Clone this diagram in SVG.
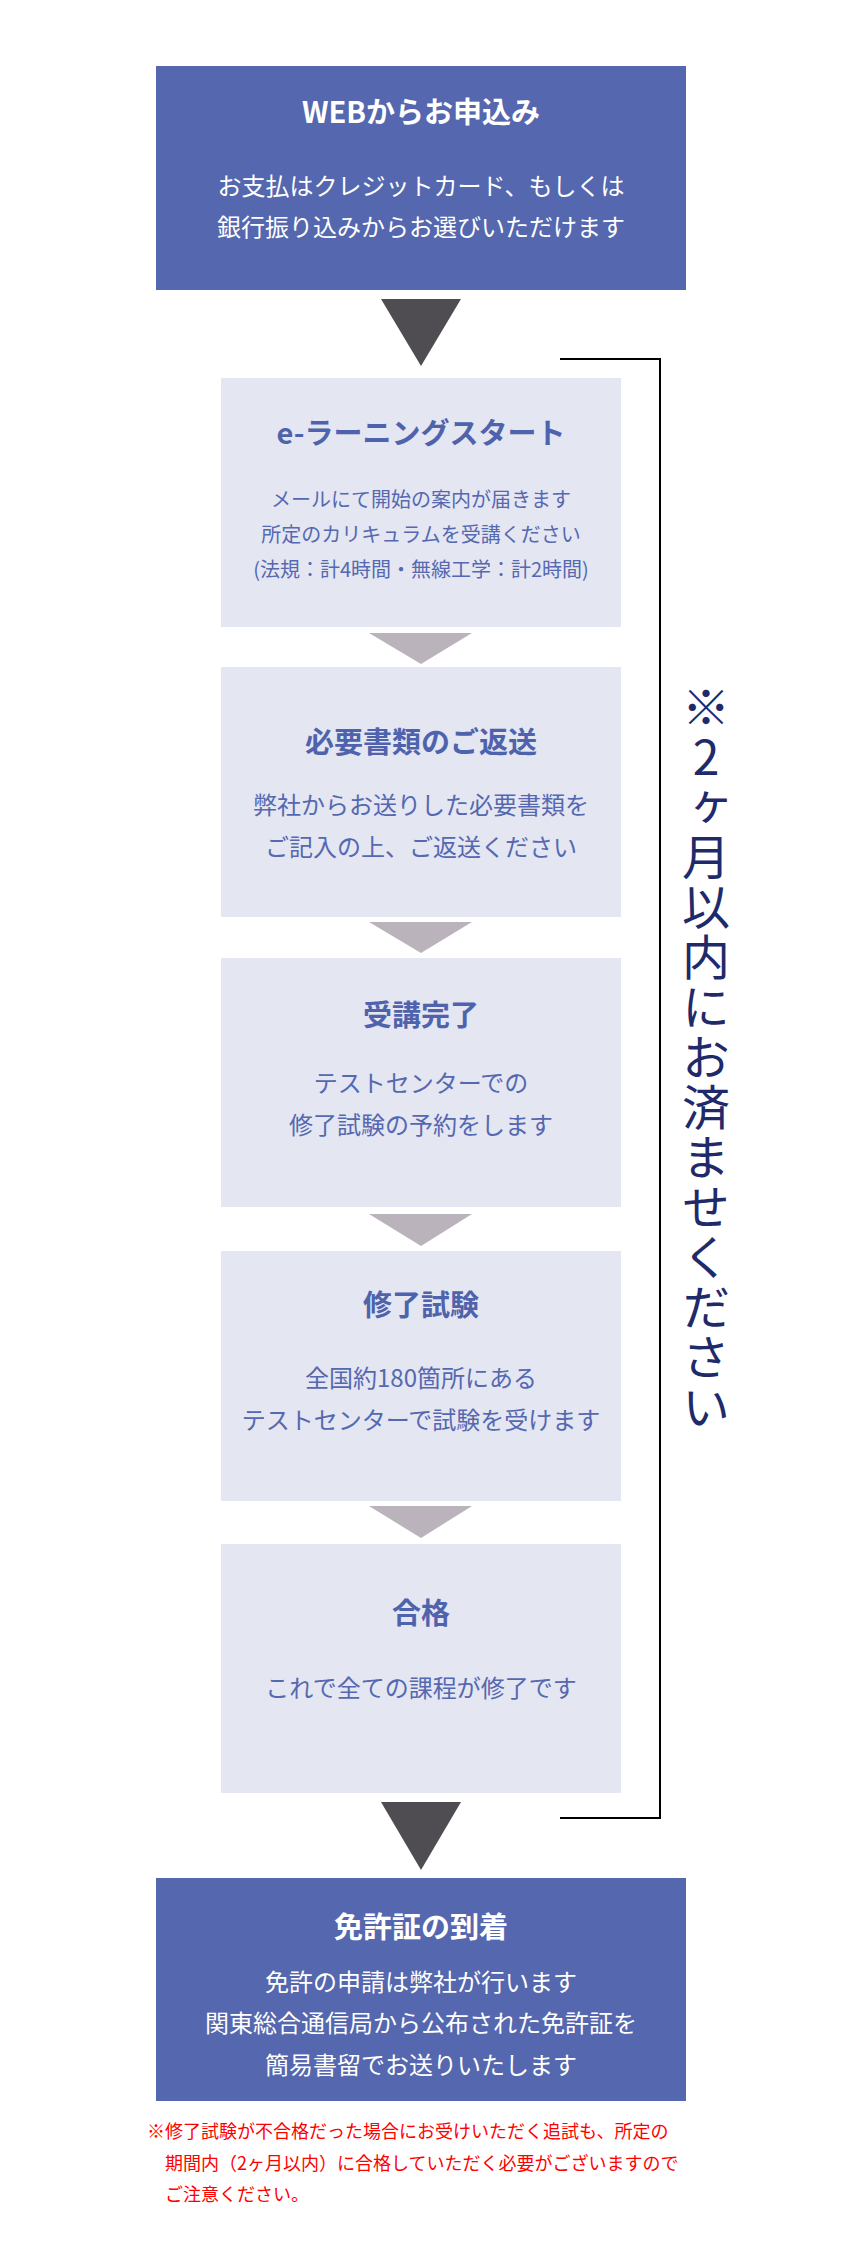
<svg xmlns="http://www.w3.org/2000/svg" width="842" height="2243" viewBox="0 0 842 2243">
<style>
  text { font-family: "Noto Sans CJK JP", "Noto Sans", sans-serif; text-anchor: middle; }
  .blue { fill: #5567ae; }
  .light { fill: #e4e6f2; }
  .wt { fill: #ffffff; font-size: 29px; font-weight: 700; }
  .wb { fill: #ffffff; font-size: 24px; }
  .lt { fill: #4f63ad; font-size: 29px; font-weight: 700; }
  .lb { fill: #5568b0; font-size: 24px; }
  .lbs { fill: #5568b0; font-size: 20px; }
  .dark { fill: #4f4d52; }
  .pale { fill: #bab3bc; }
  .note { fill: #ff0000; font-size: 18px; text-anchor: start; }
  .vert { fill: #1f2a6b; font-size: 48px; writing-mode: vertical-rl; text-orientation: upright; text-anchor: start; letter-spacing: 2px; }
</style>
<rect width="842" height="2243" fill="#ffffff"/>

<g id="node-web">
  <rect class="blue" x="156" y="66" width="530" height="224"/>
  <text class="wt" x="421" y="123">WEBからお申込み</text>
  <text class="wb" x="421" y="195">お支払はクレジットカード、もしくは</text>
  <text class="wb" x="421" y="236">銀行振り込みからお選びいただけます</text>
</g>

<g id="node-elearning">
  <rect class="light" x="221" y="378" width="400" height="249"/>
  <text class="lt" x="421" y="444">e-ラーニングスタート</text>
  <text class="lbs" x="421" y="507">メールにて開始の案内が届きます</text>
  <text class="lbs" x="421" y="542">所定のカリキュラムを受講ください</text>
  <text class="lbs" x="421" y="577">(法規：計4時間・無線工学：計2時間)</text>
</g>

<g id="node-return">
  <rect class="light" x="221" y="667" width="400" height="250"/>
  <text class="lt" x="421" y="753">必要書類のご返送</text>
  <text class="lb" x="421" y="814">弊社からお送りした必要書類を</text>
  <text class="lb" x="421" y="856">ご記入の上、ご返送ください</text>
</g>

<g id="node-complete">
  <rect class="light" x="221" y="958" width="400" height="249"/>
  <text class="lt" x="421" y="1026">受講完了</text>
  <text class="lb" x="421" y="1092">テストセンターでの</text>
  <text class="lb" x="421" y="1134">修了試験の予約をします</text>
</g>

<g id="node-exam">
  <rect class="light" x="221" y="1251" width="400" height="250"/>
  <text class="lt" x="421" y="1316">修了試験</text>
  <text class="lb" x="421" y="1387">全国約180箇所にある</text>
  <text class="lb" x="421" y="1429">テストセンターで試験を受けます</text>
</g>

<g id="node-pass">
  <rect class="light" x="221" y="1544" width="400" height="249"/>
  <text class="lt" x="421" y="1624">合格</text>
  <text class="lb" x="421" y="1697">これで全ての課程が修了です</text>
</g>

<g id="node-license">
  <rect class="blue" x="156" y="1878" width="530" height="223"/>
  <text class="wt" x="421" y="1938">免許証の到着</text>
  <text class="wb" x="421" y="1991">免許の申請は弊社が行います</text>
  <text class="wb" x="421" y="2032">関東総合通信局から公布された免許証を</text>
  <text class="wb" x="421" y="2074">簡易書留でお送りいたします</text>
</g>

<g id="connectors">
  <polygon class="dark" points="381,299 461,299 421,366"/>
  <polygon class="pale" points="369,633 472,633 421,664"/>
  <polygon class="pale" points="369,922 472,922 421,953"/>
  <polygon class="pale" points="369,1214 472,1214 421,1246"/>
  <polygon class="pale" points="369,1506 472,1506 421,1538"/>
  <polygon class="dark" points="381,1802 461,1802 421,1870"/>
</g>

<g id="bracket">
  <polyline points="560,359 660,359 660,1818 560,1818" fill="none" stroke="#000000" stroke-width="2"/>
  <text class="vert" x="706" y="683">※2ヶ月以内にお済ませください</text>
</g>

<g id="note">
  <text class="note" x="147" y="2138">※修了試験が不合格だった場合にお受けいただく追試も、所定の</text>
  <text class="note" x="165" y="2170">期間内（2ヶ月以内）に合格していただく必要がございますので</text>
  <text class="note" x="165" y="2201">ご注意ください。</text>
</g>
</svg>
